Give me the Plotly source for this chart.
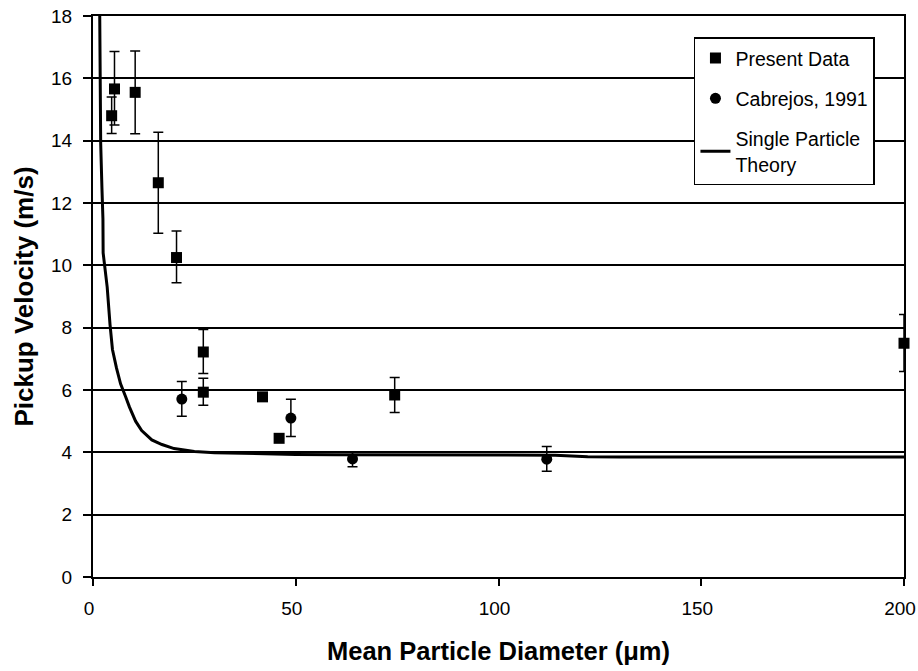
import plotly.graph_objects as go

# Present Data
present_x = [4.6, 5.3, 10.4, 16.1, 20.6, 27.2, 27.2, 41.8, 45.9, 74.4, 200]
present_y = [14.8, 15.66, 15.55, 12.65, 10.25, 7.22, 5.93, 5.78, 4.45, 5.84, 7.5]
present_err_plus = [0.6, 1.2, 1.33, 1.62, 0.85, 0.72, 0.45, 0, 0, 0.56, 0.92]
present_err_minus = [0.57, 1.16, 1.33, 1.62, 0.81, 0.69, 0.42, 0, 0, 0.56, 0.91]

# Cabrejos, 1991
cab_x = [21.9, 48.8, 64.0, 111.9]
cab_y = [5.71, 5.1, 3.79, 3.78]
cab_err_plus = [0.56, 0.6, 0.22, 0.41]
cab_err_minus = [0.55, 0.59, 0.25, 0.39]

# Single Particle Theory
theory_x = [1.65, 1.9, 2.2, 2.45, 2.5, 2.9, 3.5, 4.2, 4.8, 5.8, 6.8, 8.0, 9.0,
            10.5, 12, 14.5, 17, 20, 25, 30, 40, 50, 60, 80, 100, 114, 118, 122,
            130, 150, 200]
theory_y = [18.2, 13.9, 12.5, 11.5, 10.4, 9.9, 9.3, 8.1, 7.3, 6.7, 6.2, 5.8, 5.45,
            5.0, 4.7, 4.4, 4.25, 4.12, 4.03, 3.99, 3.95, 3.93, 3.92, 3.92, 3.92,
            3.91, 3.88, 3.86, 3.85, 3.85, 3.85]

x_ticks = [0, 50, 100, 150, 200]
y_ticks = [0, 2, 4, 6, 8, 10, 12, 14, 16, 18]

FONT = "Liberation Sans, Arial, sans-serif"

fig = go.Figure()
fig.add_trace(go.Scatter(
    x=present_x, y=present_y, mode="markers", name="Present Data",
    legendgroup="a",
    marker=dict(symbol="square", size=11, color="black"),
    error_y=dict(type="data", array=present_err_plus, arrayminus=present_err_minus,
                 color="black", thickness=1.5, width=5),
    cliponaxis=False,
))
fig.add_trace(go.Scatter(
    x=cab_x, y=cab_y, mode="markers", name="Cabrejos, 1991",
    legendgroup="b",
    marker=dict(symbol="circle", size=11, color="black"),
    error_y=dict(type="data", array=cab_err_plus, arrayminus=cab_err_minus,
                 color="black", thickness=1.5, width=5),
))
fig.add_trace(go.Scatter(
    x=theory_x, y=theory_y, mode="lines", name="Single Particle<br>Theory",
    legendgroup="c",
    line=dict(color="black", width=3),
))

fig.update_layout(
    width=918, height=671,
    margin=dict(l=93, r=14, t=16, b=94, autoexpand=False),
    paper_bgcolor="white", plot_bgcolor="white",
    font=dict(family=FONT, size=19, color="black"),
    showlegend=True,
    legend=dict(
        x=0.741, y=0.962, xanchor="left", yanchor="top",
        bordercolor="black", borderwidth=1.5, bgcolor="white",
        font=dict(family=FONT, size=19.5, color="black"),
        tracegroupgap=12,
    ),
    xaxis=dict(
        range=[0, 200], tickvals=x_ticks, ticks="outside", ticklen=7,
        tickwidth=1.5, tickcolor="black", showline=True, linecolor="black",
        linewidth=2, mirror=True, showgrid=False, zeroline=False,
        automargin=False, ticklabeloverflow="allow", ticklabelstandoff=6,
        ticklabelshift=-4,
        title=dict(text="<b>Mean Particle Diameter (μm)</b>",
                   font=dict(family=FONT, size=25.5), standoff=24),
        tickfont=dict(size=19),
    ),
    yaxis=dict(
        range=[0, 18], tickvals=y_ticks, ticks="outside", ticklen=8,
        tickwidth=1.5, tickcolor="black", showline=True, linecolor="black",
        linewidth=2, mirror=True, showgrid=True, gridcolor="black",
        gridwidth=1.5, zeroline=False, automargin=False,
        ticklabeloverflow="allow", ticklabelstandoff=7,
        title=dict(text="<b>Pickup Velocity (m/s)</b>",
                   font=dict(family=FONT, size=26), standoff=10),
        tickfont=dict(size=19),
    ),
)

fig.write_html("out.html")
